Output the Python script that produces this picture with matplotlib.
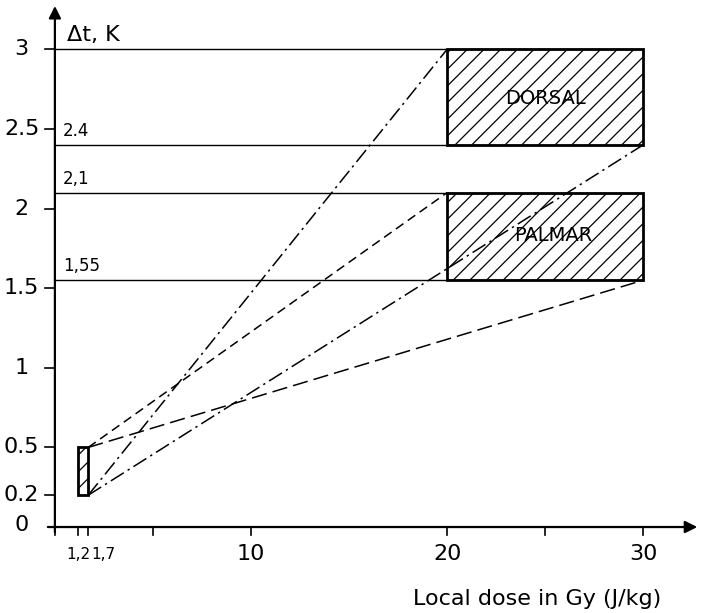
import matplotlib

matplotlib.use("Agg")

import matplotlib.pyplot as plt
from matplotlib.patches import Rectangle

# threshold levels of delta t (K) drawn as horizontal lines
levels = [3.0, 2.4, 2.1, 1.55]
level_labels = ["", "2.4", "2,1", "1,55"]

# hatched regions: (x0, x1, y0, y1)
dorsal_box = (20, 30, 2.4, 3.0)
palmar_box = (20, 30, 1.55, 2.1)
hand_box = (1.2, 1.7, 0.2, 0.5)

# connecting lines: start point, end point, dash pattern
link_start = [(1.7, 0.2), (1.7, 0.5), (1.7, 0.2), (1.7, 0.5)]
link_end = [(20, 3.0), (20, 2.1), (30, 2.4), (30, 1.55)]
link_dash = [(0, (10, 3, 1.5, 3)), (0, (6, 3.5)), (0, (10, 3, 1.5, 3)), (0, (10, 4))]

y_ticks = [3, 2.5, 2, 1.5, 1, 0.5, 0.2]
y_tick_labels = ["3", "2.5", "2", "1.5", "1", "0.5", "0.2"]
x_ticks = [0, 1.2, 1.7, 5, 10, 20, 25, 30]
x_big_labels = {10: "10", 20: "20", 30: "30"}

plt.rcParams["hatch.linewidth"] = 0.9
fig = plt.figure(figsize=(7.02, 6.13), dpi=100)
ax = fig.add_axes([0, 0, 1, 1])
ax.set_xlim(-2.8, 33.0)
ax.set_ylim(-0.54, 3.31)
ax.axis("off")

# axes with arrows
ax.annotate("", xy=(32.9, 0), xytext=(-0.5, 0),
            arrowprops=dict(arrowstyle="-|>", lw=1.6, color="black", mutation_scale=18))
ax.annotate("", xy=(0, 3.29), xytext=(0, -0.05),
            arrowprops=dict(arrowstyle="-|>", lw=1.6, color="black", mutation_scale=18))

for y, lab in zip(levels, level_labels):
    ax.plot([0, 30], [y, y], color="black", lw=1.0)
    if lab:
        ax.text(0.4, y + 0.03, lab, fontsize=12, ha="left", va="bottom")

for x0, x1, y0, y1 in [dorsal_box, palmar_box, hand_box]:
    ax.add_patch(Rectangle((x0, y0), x1 - x0, y1 - y0, fill=False, hatch="//",
                           edgecolor="black", lw=2.0))

for (xs, ys), (xe, ye), ls in zip(link_start, link_end, link_dash):
    ax.plot([xs, xe], [ys, ye], color="black", lw=1.1, linestyle=ls)

ax.text(25.0, 2.69, "DORSAL", fontsize=14, ha="center", va="center")
ax.text(25.4, 1.83, "PALMAR", fontsize=14, ha="center", va="center")

# y ticks
for y, lab in zip(y_ticks, y_tick_labels):
    ax.plot([-0.5, 0], [y, y], color="black", lw=1.2)
    ax.text(-1.7, y, lab, fontsize=16, ha="center", va="center")
ax.text(-1.7, 0.01, "0", fontsize=16, ha="center", va="center")

# x ticks
for x in x_ticks:
    ax.plot([x, x], [0, -0.05], color="black", lw=1.2)
ax.text(1.2, -0.17, "1,2", fontsize=11, ha="center", va="center")
ax.text(1.85, -0.17, "1,7", fontsize=11, ha="left", va="center")
for x, lab in x_big_labels.items():
    ax.text(x, -0.17, lab, fontsize=16, ha="center", va="center")

ax.text(0.6, 3.09, "Δt, K", fontsize=16, ha="left", va="center")
ax.text(24.6, -0.45, "Local dose in Gy (J/kg)", fontsize=16, ha="center", va="center")

fig.savefig("out.png", dpi=100)
